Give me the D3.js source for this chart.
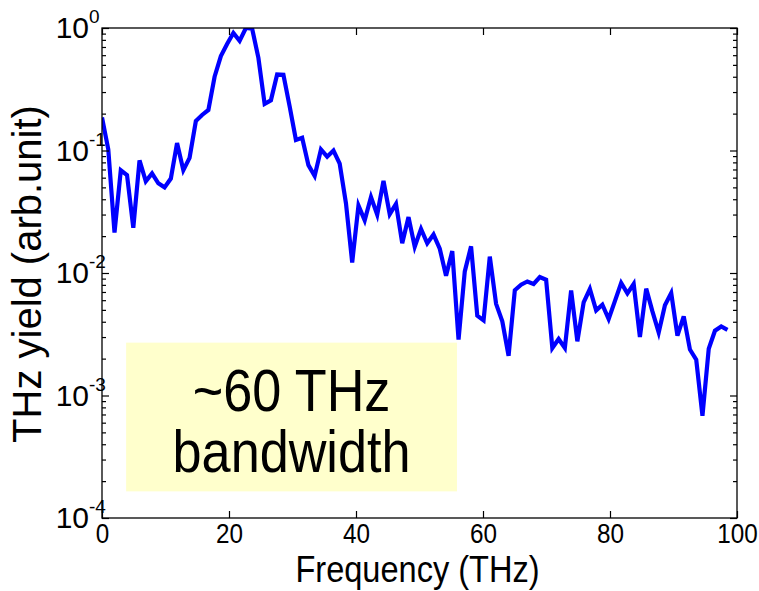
<!DOCTYPE html>
<html><head><meta charset="utf-8">
<script src="https://cdn.jsdelivr.net/npm/d3@7"></script>
<style>body{margin:0;background:#fff}svg{display:block}text{font-family:Arial,"Liberation Sans",sans-serif;fill:#000}</style>
</head><body>
<svg id="c" width="759" height="591"></svg>
<script>
const freq = [0,0.99,1.97,2.96,3.94,4.93,5.91,6.90,7.88,8.87,9.85,10.84,11.82,12.81,13.79,14.78,15.76,16.75,17.73,18.72,19.70,20.69,21.67,22.66,23.64,24.63,25.61,26.60,27.58,28.57,29.55,30.54,31.52,32.51,33.49,34.48,35.46,36.45,37.43,38.42,39.40,40.39,41.37,42.36,43.34,44.33,45.31,46.30,47.28,48.27,49.25,50.24,51.22,52.21,53.19,54.18,55.16,56.15,57.13,58.12,59.10,60.09,61.07,62.06,63.04,64.03,65.01,66.00,66.98,67.97,68.95,69.94,70.92,71.91,72.89,73.88,74.86,75.85,76.83,77.82,78.80,79.79,80.77,81.76,82.74,83.73,84.71,85.70,86.68,87.67,88.65,89.64,90.62,91.61,92.59,93.58,94.56,95.55,96.53,97.52,98.50];
const yieldVals = [0.186,0.102,0.0214,0.069,0.063,0.0234,0.083,0.056,0.065,0.054,0.050,0.059,0.115,0.069,0.087,0.174,0.195,0.214,0.40,0.59,0.74,0.91,0.785,1.0,0.99,0.57,0.24,0.257,0.417,0.415,0.229,0.122,0.127,0.076,0.062,0.102,0.089,0.100,0.078,0.037,0.0122,0.0355,0.0269,0.0417,0.0299,0.0566,0.0302,0.0366,0.0175,0.0286,0.0164,0.0229,0.0175,0.0206,0.0158,0.0095,0.0151,0.00286,0.0103,0.0165,0.00448,0.0041,0.0136,0.0056,0.00403,0.00211,0.00724,0.00802,0.00853,0.00813,0.00927,0.00881,0.00244,0.00289,0.00244,0.00721,0.00277,0.00575,0.0074,0.00495,0.00551,0.00421,0.00589,0.00828,0.00681,0.00813,0.003,0.00745,0.00486,0.00327,0.00545,0.00687,0.00308,0.00443,0.00237,0.00196,0.000684,0.00241,0.00338,0.00366,0.00344];
const xTicks = [0,20,40,60,80,100];
const yTickExp = [0,-1,-2,-3,-4];
const xLabel = "Frequency (THz)";
const yLabel = "THz yield (arb.unit)";
const noteLines = ["~60 THz","bandwidth"];
const noteRange = [3.8, 55.9];
const noteYRange = [2.7e-3, 1.65e-4];

const L=102, R=737, T=28, B=518;
const svg = d3.select("#c");
const x = d3.scaleLinear().domain([0,100]).range([L,R]);
const y = d3.scaleLog().domain([1e-4,1]).range([B,T]);

svg.append("rect").attr("x",x(noteRange[0])).attr("y",y(noteYRange[0]))
  .attr("width",x(noteRange[1])-x(noteRange[0])).attr("height",y(noteYRange[1])-y(noteYRange[0]))
  .attr("fill","#ffffcc");
const cx = (x(noteRange[0])+x(noteRange[1]))/2;
[[noteLines[0],411],[noteLines[1],472]].forEach(([t,by])=>{
  svg.append("text").attr("transform",`translate(${cx},${by}) scale(0.87,1)`).attr("text-anchor","middle").style("font-size","60px").text(t);
});

svg.append("clipPath").attr("id","clip").append("rect").attr("x",L).attr("y",T).attr("width",R-L).attr("height",B-T);

const line = d3.line().x((d,i)=>x(freq[i])).y(d=>y(d));
svg.append("path").datum(yieldVals).attr("d",line).attr("clip-path","url(#clip)")
  .attr("fill","none").attr("stroke","#0000ff").attr("stroke-width",4.2).attr("stroke-linejoin","miter");

svg.append("rect").attr("x",L).attr("y",T).attr("width",R-L).attr("height",B-T).attr("fill","none").attr("stroke","#000").attr("stroke-width",1.3);

const axB = d3.axisBottom(x).tickValues(xTicks).tickSize(-7).tickFormat(d3.format("d"));
const xa = svg.append("g").attr("transform",`translate(0,${B})`).call(axB);
xa.select(".domain").remove();
xa.selectAll("text").style("font-size","27px").attr("dy",null).attr("y",25).attr("transform","scale(0.9,1)");
const axT = d3.axisTop(x).tickValues(xTicks).tickSize(-7).tickFormat("");
const xt = svg.append("g").attr("transform",`translate(0,${T})`).call(axT);
xt.select(".domain").remove();

const minor = [];
for (let e=-4;e<0;e++) for (let m=2;m<=9;m++) minor.push(m*Math.pow(10,e));
const major = yTickExp.map(e=>Math.pow(10,e));
[[d3.axisLeft,L],[d3.axisRight,R]].forEach(([ax,pos])=>{
  const a1 = svg.append("g").attr("transform",`translate(${pos},0)`).call(ax(y).tickValues(major).tickSize(-7).tickFormat(""));
  a1.select(".domain").remove();
  const a2 = svg.append("g").attr("transform",`translate(${pos},0)`).call(ax(y).tickValues(minor).tickSize(-4).tickFormat(""));
  a2.select(".domain").remove();
});
svg.selectAll(".tick line").attr("stroke","#000").attr("stroke-width",1.2);

yTickExp.forEach(e=>{
  const ty = y(Math.pow(10,e));
  svg.append("text").attr("x",89).attr("y",ty+10).attr("text-anchor","end").style("font-size","30px").text("10");
  svg.append("text").attr("x",89).attr("y",ty-5).style("font-size","19px").text(String(e));
});

svg.append("text").attr("transform",`translate(${(L+R)/2-2},582) scale(0.88,1)`).attr("text-anchor","middle").style("font-size","37px").text(xLabel);
svg.append("text").attr("transform",`translate(41,${(T+B)/2+1}) rotate(-90)`).attr("text-anchor","middle").style("font-size","40px").text(yLabel);
</script>
</body></html>
